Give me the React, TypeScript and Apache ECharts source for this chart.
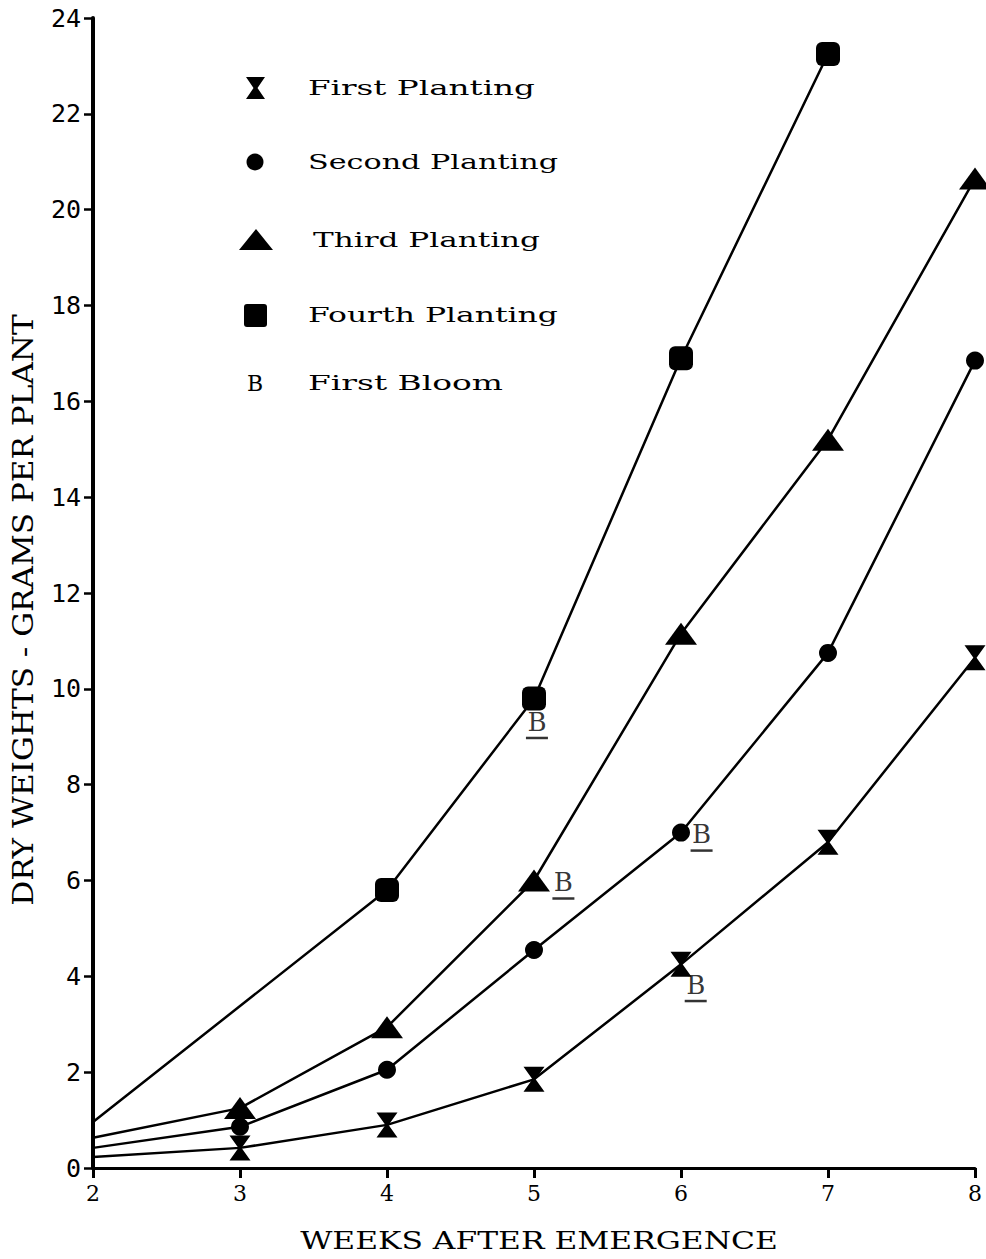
import React, { useEffect, useRef } from "react";
import * as echarts from "echarts";

const weeks = [2, 3, 4, 5, 6, 7, 8];
const firstPlanting = [0.23, 0.42, 0.9, 1.85, 4.25, 6.8, 10.65];
const secondPlanting = [0.42, 0.86, 2.05, 4.55, 7.0, 10.75, 16.85];
const thirdPlanting = [0.63, 1.25, 2.94, 6.0, 11.15, 15.2, 20.65];
const fourthWeeks = [2, 4, 5, 6, 7];
const fourthPlanting = [0.96, 5.8, 9.8, 16.9, 23.25];
const bloomWeeks = [5.02, 5.2, 6.14, 6.1];
const bloomValues = [9.35, 6.0, 7.0, 3.86];

const legendNames = ["First Planting", "Second Planting", "Third Planting", "Fourth Planting", "First Bloom"];

const HOURGLASS = "path://M0,0 L20,0 L11.5,12 L20,24 L0,24 L8.5,12 Z";

function toPoints(xs: number[], ys: number[]) {
  return xs.map((x, i) =>
    i === 0 && x === 2 ? { value: [x, ys[i]], symbol: "none" } : { value: [x, ys[i]] }
  );
}

function measure(text: string, font: string) {
  const ctx = document.createElement("canvas").getContext("2d")!;
  ctx.font = font;
  return ctx.measureText(text).width;
}

export default function App() {
  const ref = useRef<HTMLDivElement>(null);
  useEffect(() => {
    document.body.style.margin = "0";
    const chart = echarts.init(ref.current!, null, { renderer: "svg" });
    const serif = "DejaVu Serif";

    const legendFont = 20;
    const legendRows = [88, 162, 240, 315, 383];
    const legendLeft = [308, 308, 313, 308, 308];
    const legendWidth = [227, 250, 227, 250, 195];

    const legendTexts = legendNames.map((name, i) => {
      const w = measure(name, `${legendFont}px "${serif}"`);
      return {
        type: "text",
        x: legendLeft[i],
        y: legendRows[i],
        scaleX: legendWidth[i] / w,
        style: {
          text: name,
          fontSize: legendFont,
          fontFamily: serif,
          fill: "#000",
          align: "left",
          verticalAlign: "middle",
        },
      };
    });

    const xName = "WEEKS AFTER EMERGENCE";
    const xNameFont = 24;
    const xNameW = measure(xName, `${xNameFont}px "${serif}"`);
    const yName = "DRY WEIGHTS - GRAMS PER PLANT";
    const yNameFont = 28;
    const yNameW = measure(yName, `${yNameFont}px "${serif}"`);

    const symStyle = { fill: "#000" };

    chart.setOption({
      animation: false,
      backgroundColor: "#fff",
      grid: { left: 93, right: 11, top: 18, bottom: 91 },
      xAxis: {
        type: "value",
        min: 2,
        max: 8,
        interval: 1,
        splitLine: { show: false },
        axisLine: { lineStyle: { color: "#000", width: 3 } },
        axisTick: { length: 10, lineStyle: { color: "#000", width: 3 } },
        axisLabel: { color: "#000", fontFamily: serif, fontSize: 22, margin: 14 },
      },
      yAxis: {
        type: "value",
        min: 0,
        max: 24,
        interval: 2,
        splitLine: { show: false },
        axisLine: { show: true, lineStyle: { color: "#000", width: 4 } },
        axisTick: { show: true, length: 9, lineStyle: { color: "#000", width: 2.5 } },
        axisLabel: { color: "#000", fontFamily: "DejaVu Sans Mono", fontSize: 25, margin: 12 },
      },
      series: [
        {
          name: legendNames[0],
          type: "line",
          data: toPoints(weeks, firstPlanting),
          symbol: HOURGLASS,
          symbolSize: [21, 25],
          lineStyle: { color: "#000", width: 2.5 },
          itemStyle: { color: "#000" },
        },
        {
          name: legendNames[1],
          type: "line",
          data: toPoints(weeks, secondPlanting),
          symbol: "circle",
          symbolSize: 18,
          lineStyle: { color: "#000", width: 2.5 },
          itemStyle: { color: "#000" },
        },
        {
          name: legendNames[2],
          type: "line",
          data: toPoints(weeks, thirdPlanting),
          symbol: "triangle",
          symbolSize: [32, 22],
          lineStyle: { color: "#000", width: 2.5 },
          itemStyle: { color: "#000" },
        },
        {
          name: legendNames[3],
          type: "line",
          data: toPoints(fourthWeeks, fourthPlanting),
          symbol: "roundRect",
          symbolSize: 24,
          lineStyle: { color: "#000", width: 2.5 },
          itemStyle: { color: "#000" },
        },
        {
          name: legendNames[4],
          type: "scatter",
          data: bloomWeeks.map((x, i) => [x, bloomValues[i]]),
          symbol: "rect",
          symbolSize: [22, 2.5],
          symbolOffset: [0, 18],
          itemStyle: { color: "#000" },
          label: {
            show: true,
            formatter: "B",
            position: "top",
            distance: 2,
            color: "#000",
            fontFamily: serif,
            fontSize: 26,
          },
          z: 5,
        },
      ],
      graphic: [
        {
          type: "polygon",
          shape: { points: [[246, 77], [265, 77], [257.5, 88], [265, 99], [246, 99], [253.5, 88]] },
          style: symStyle,
        },
        { type: "circle", shape: { cx: 255, cy: 162, r: 8.5 }, style: symStyle },
        {
          type: "polygon",
          shape: { points: [[239, 250], [273, 250], [256, 229]] },
          style: symStyle,
        },
        { type: "rect", shape: { x: 244, y: 304, width: 23, height: 23, r: 3 }, style: symStyle },
        {
          type: "text",
          x: 255,
          y: 383,
          style: { text: "B", fontSize: 22, fontFamily: serif, fill: "#000", align: "center", verticalAlign: "middle" },
        },
        ...legendTexts,
        {
          type: "text",
          x: 539,
          y: 1241,
          scaleX: 478 / xNameW,
          style: {
            text: xName,
            fontSize: xNameFont,
            fontFamily: serif,
            fill: "#000",
            align: "center",
            verticalAlign: "middle",
          },
        },
        {
          type: "text",
          x: 24,
          y: 610,
          rotation: Math.PI / 2,
          scaleX: 592 / yNameW,
          style: {
            text: yName,
            fontSize: yNameFont,
            fontFamily: serif,
            fill: "#000",
            align: "center",
            verticalAlign: "middle",
          },
        },
      ],
    });
    return () => chart.dispose();
  }, []);
  return <div ref={ref} style={{ width: 986, height: 1259 }} />;
}
